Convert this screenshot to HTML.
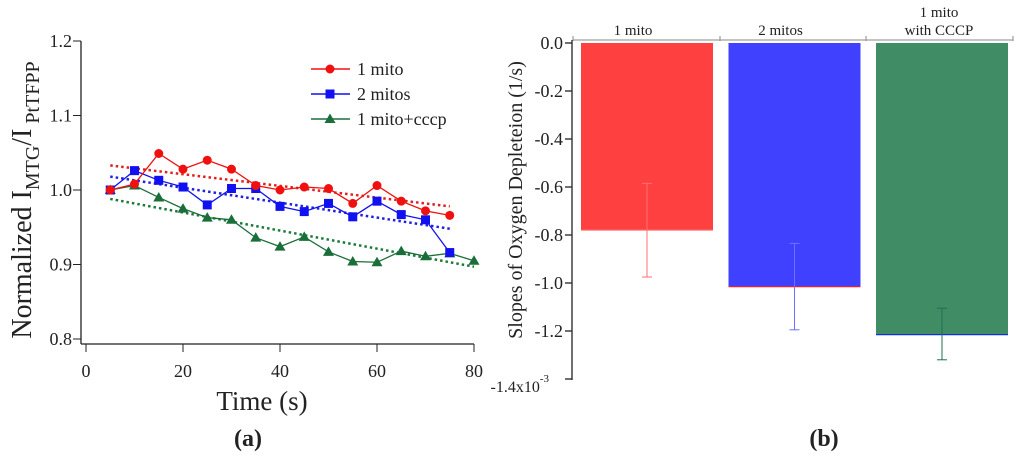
<!DOCTYPE html>
<html><head><meta charset="utf-8"><style>
body{margin:0;background:#fff;width:1024px;height:460px;overflow:hidden}
svg text{font-family:"Liberation Serif",serif;fill:#222}
</style></head><body>
<svg width="1024" height="460">
<g id="left"></g>
<g id="right"></g>
</svg>
<script>
const times=[5,10,15,20,25,30,35,40,45,50,55,60,65,70,75];
const timesG=[5,10,15,20,25,30,35,40,45,50,55,60,65,70,75,80];
const red=[1.0,1.008,1.049,1.028,1.040,1.028,1.006,1.0,1.004,1.002,0.982,1.006,0.985,0.972,0.966];
const blue=[1.0,1.026,1.013,1.004,0.980,1.002,1.002,0.978,0.971,0.982,0.964,0.985,0.967,0.960,0.916];
const green=[1.0,1.006,0.990,0.975,0.963,0.960,0.936,0.924,0.937,0.917,0.904,0.903,0.918,0.911,0.915,0.905];
const fitRed=[[5,1.033],[75,0.978]];
const fitBlue=[[5,1.018],[75,0.948]];
const fitGreen=[[5,0.988],[80,0.897]];
const xTicks=[0,20,40,60,80];
const yTicks=[0.8,0.9,1.0,1.1,1.2];
const cats=[["1 mito"],["2 mitos"],["1 mito","with CCCP"]];
const barVals=[-0.78,-1.015,-1.215];
const errLo=[-0.975,-1.195,-1.32];
const errHi=[-0.585,-0.835,-1.105];
const bTicks=[0,-0.2,-0.4,-0.6,-0.8,-1.0,-1.2];
const NS="http://www.w3.org/2000/svg";
function mk(p,t,a,txt){const e=document.createElementNS(NS,t);for(const k in a)e.setAttribute(k,a[k]);if(txt!=null)e.textContent=txt;p.appendChild(e);return e;}
const L=document.getElementById('left');
const xs=v=>86+(v/80)*388, ys=v=>339-(v-0.8)/0.4*298;
let e;
e=mk(L,'line',{x1:81,y1:41,x2:81,y2:344,stroke:'#222','stroke-width':1.3});

e=mk(L,'line',{x1:81,y1:344,x2:474,y2:344,stroke:'#222','stroke-width':1.3});

xTicks.forEach(t=>{mk(L,'line',{x1:xs(t),y1:344,x2:xs(t),y2:352,stroke:'#222'});
e=mk(L,'text',{x:xs(t),y:377,'text-anchor':'middle','font-size':18},t);
});
yTicks.forEach(t=>{mk(L,'line',{x1:73,y1:ys(t),x2:81,y2:ys(t),stroke:'#222'});
e=mk(L,'text',{x:72,y:ys(t)+6,'text-anchor':'end','font-size':18},t.toFixed(1));
});
e=mk(L,'text',{x:262,y:410,'text-anchor':'middle','font-size':27},'Time (s)');

e=mk(L,'text',{x:0,y:0,'text-anchor':'middle','font-size':28,transform:'translate(31,200) rotate(-90)'});
e.innerHTML='Normalized I<tspan font-size="20" dy="8">MTG</tspan><tspan dy="-8">/I</tspan><tspan font-size="20" dy="8"> PtTFPP</tspan>';

e=mk(L,'text',{x:248,y:446,'text-anchor':'middle','font-size':24,'font-weight':'bold','font-family':'Liberation Sans'},'(a)');

function fit(f,c){e=mk(L,'line',{x1:xs(f[0][0]),y1:ys(f[0][1]),x2:xs(f[1][0]),y2:ys(f[1][1]),stroke:c,'stroke-width':2.5,'stroke-dasharray':'2.5 3'});
}
fit(fitRed,'#e02020');fit(fitBlue,'#2020e0');fit(fitGreen,'#1a7a3a');
function marker(g,shape,x,y,c){if(shape==0)return mk(g,'circle',{cx:x,cy:y,r:4.5,fill:c});
if(shape==1)return mk(g,'rect',{x:x-4.5,y:y-4.5,width:9,height:9,fill:c});
return mk(g,'polygon',{points:`${x},${y-5.5} ${x+5.5},${y+4} ${x-5.5},${y+4}`,fill:c});}
function series(tx,vals,c,shape,name){const g=mk(L,'g',{});
mk(g,'polyline',{points:vals.map((v,i)=>xs(tx[i])+','+ys(v)).join(' '),fill:'none',stroke:c,'stroke-width':1.3});
vals.forEach((v,i)=>{const m=marker(g,shape,xs(tx[i]),ys(v),c);});}
series(timesG,green,'#1a6e3a',2,'series-1-mito-cccp');
series(times,blue,'#1010f0',1,'series-2-mitos');
series(times,red,'#f01010',0,'series-1-mito');
[['1 mito','#f01010',0],['2 mitos','#1010f0',1],['1 mito+cccp','#1a6e3a',2]].forEach((l,i)=>{
const g=mk(L,'g',{});
const y=69+i*25;mk(g,'line',{x1:311,y1:y,x2:350,y2:y,stroke:l[1],'stroke-width':1.5});marker(g,l[2],330,y,l[1]);
mk(g,'text',{x:357,y:y+6,'font-size':18},l[0]);});
// right
const R=document.getElementById('right');
const by=v=>43-v*240;
e=mk(R,'line',{x1:572,y1:40,x2:572,y2:380,stroke:'#222','stroke-width':1.3});

e=mk(R,'line',{x1:573,y1:40,x2:1013,y2:40,stroke:'#888','stroke-width':1});

[573,720,866,1013].forEach(x=>mk(R,'line',{x1:x,y1:36,x2:x,y2:41,stroke:'#888'}));
bTicks.concat([-1.4]).forEach(t=>{mk(R,'line',{x1:565,y1:by(t),x2:572,y2:by(t),stroke:'#222','stroke-width':1.3});});
bTicks.forEach(t=>{e=mk(R,'text',{x:563,y:by(t)+6,'text-anchor':'end','font-size':18},t.toFixed(1));
});
e=mk(R,'text',{x:549,y:392,'text-anchor':'end','font-size':16});e.innerHTML='-1.4x10<tspan font-size="11" dy="-10">-3</tspan>';

e=mk(R,'text',{x:0,y:0,'text-anchor':'middle','font-size':20,transform:'translate(522,200) rotate(-90)'},'Slopes of Oxygen Depleteion (1/s)');

const cols=['#ff4040','#4040ff','#408c64'],ecols=['#ff7070','#7070ff','#207050'],bot=['#ff8080','#e02040','#1030e0'];
barVals.forEach((v,i)=>{const x0=581+i*147.5,w=132,cx=x0+w/2;
e=mk(R,'rect',{x:x0,y:by(0),width:w,height:by(v)-by(0),fill:cols[i]});

mk(R,'line',{x1:x0,y1:by(v),x2:x0+w,y2:by(v),stroke:bot[i],'stroke-width':1.2});
const g=mk(R,'g',{stroke:ecols[i],'stroke-width':1});
mk(g,'line',{x1:cx,y1:by(errHi[i]),x2:cx,y2:by(errLo[i])});
mk(g,'line',{x1:cx-5,y1:by(errHi[i]),x2:cx+5,y2:by(errHi[i])});
mk(g,'line',{x1:cx-5,y1:by(errLo[i]),x2:cx+5,y2:by(errLo[i])});
const lines=cats[i];lines.forEach((s,j)=>{e=mk(R,'text',{x:cx-(i==2?3:14),y:35-(lines.length-1-j)*18,'text-anchor':'middle','font-size':15},s);
});});
e=mk(R,'text',{x:824,y:446,'text-anchor':'middle','font-size':24,'font-weight':'bold','font-family':'Liberation Sans'},'(b)');

</script>
</body></html>
